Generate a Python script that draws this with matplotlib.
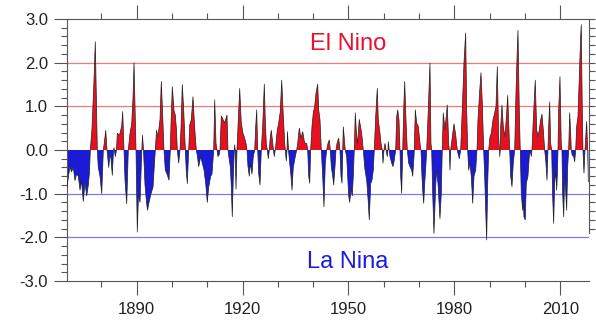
import matplotlib
matplotlib.use("Agg")
import matplotlib.pyplot as plt
import numpy as np
from matplotlib.ticker import MultipleLocator, FixedLocator

plt.rcParams['font.family'] = ['Liberation Sans', 'DejaVu Sans']

# Nino index key points (decimal year, index value)
years = [
    1870.25, 1870.68, 1871.10, 1871.53, 1872.04, 1872.52, 1872.95, 1873.46, 1873.94, 1874.36,
    1874.87, 1875.35, 1875.84, 1876.29, 1876.63, 1876.86, 1877.34, 1877.90, 1878.27, 1878.61,
    1878.84, 1879.12, 1879.60, 1880.09, 1880.54, 1880.88, 1881.22, 1881.59, 1882.07, 1882.44,
    1882.72, 1883.09, 1883.43, 1883.57, 1883.94, 1884.28, 1884.50, 1884.99, 1885.27, 1885.75,
    1886.03, 1886.26, 1886.40, 1886.69, 1887.17, 1887.62, 1888.10, 1888.58, 1888.95, 1889.24,
    1889.52, 1889.80, 1890.17, 1890.51, 1890.94, 1891.22, 1891.45, 1891.64, 1891.93, 1892.35,
    1892.78, 1893.06, 1893.49, 1894.05, 1894.62, 1895.27, 1895.61, 1896.03, 1896.60, 1896.97,
    1897.31, 1897.73, 1898.10, 1898.58, 1899.15, 1899.52, 1899.72, 1900.09, 1900.57, 1900.94,
    1901.28, 1901.50, 1901.90, 1902.27, 1902.55, 1902.92, 1903.32, 1903.77, 1904.05, 1904.34,
    1904.73, 1905.02, 1905.47, 1905.95, 1906.43, 1906.89, 1907.22, 1907.56, 1908.13, 1908.58,
    1909.07, 1909.55, 1910.00, 1910.40, 1910.96, 1911.33, 1911.81, 1912.10, 1912.47, 1912.75,
    1913.03, 1913.40, 1913.60, 1913.97, 1914.45, 1914.93, 1915.58, 1915.86, 1916.23, 1916.52,
    1916.80, 1917.08, 1917.37, 1917.65, 1917.76, 1917.90, 1918.13, 1918.41, 1918.90, 1919.18,
    1919.63, 1920.11, 1920.48, 1920.96, 1921.25, 1921.53, 1921.90, 1922.18, 1922.66, 1923.03,
    1923.43, 1923.71, 1924.00, 1924.28, 1924.56, 1924.93, 1925.30, 1925.69, 1926.15, 1926.43,
    1926.71, 1927.00, 1927.28, 1927.56, 1927.85, 1928.13, 1928.53, 1928.75, 1928.98, 1929.26,
    1929.38, 1929.83, 1930.23, 1930.68, 1931.08, 1931.45, 1931.93, 1932.10, 1932.38, 1932.58,
    1932.72, 1933.00, 1933.34, 1933.71, 1934.00, 1934.36, 1934.93, 1935.33, 1935.61, 1936.06,
    1936.55, 1937.03, 1937.48, 1937.76, 1938.16, 1938.44, 1938.73, 1939.01, 1939.29, 1939.66,
    1940.03, 1940.43, 1940.79, 1941.28, 1941.56, 1941.93, 1942.30, 1942.69, 1943.06, 1943.43,
    1943.82, 1944.19, 1944.56, 1944.85, 1945.13, 1945.53, 1945.81, 1946.18, 1946.46, 1946.74,
    1947.22, 1947.59, 1947.88, 1948.16, 1948.36, 1948.53, 1948.87, 1949.09, 1949.49, 1949.77,
    1950.06, 1950.34, 1950.71, 1951.08, 1951.36, 1951.64, 1951.93, 1952.32, 1952.55, 1953.06,
    1953.26, 1953.74, 1954.19, 1954.68, 1955.16, 1955.61, 1955.89, 1956.29, 1956.66, 1957.03,
    1957.31, 1957.71, 1958.16, 1958.44, 1958.93, 1959.21, 1959.58, 1959.78, 1960.06, 1960.34,
    1960.63, 1960.99, 1961.19, 1961.28, 1961.53, 1961.76, 1962.24, 1962.61, 1962.98, 1963.37,
    1963.66, 1963.94, 1964.31, 1964.59, 1964.79, 1965.07, 1965.36, 1965.64, 1965.92, 1966.29,
    1966.66, 1967.06, 1967.42, 1967.91, 1968.19, 1968.56, 1968.64, 1968.93, 1969.32, 1969.78,
    1970.26, 1970.54, 1970.82, 1971.02, 1971.31, 1971.59, 1971.96, 1972.16, 1972.61, 1973.09,
    1973.37, 1973.57, 1973.86, 1974.22, 1974.71, 1974.99, 1975.36, 1975.92, 1976.29, 1976.57,
    1976.86, 1977.34, 1977.99, 1978.39, 1978.56, 1978.76, 1978.95, 1979.41, 1979.89, 1980.37,
    1980.82, 1981.02, 1981.39, 1981.79, 1982.24, 1982.72, 1983.20, 1983.49, 1983.77, 1984.05,
    1984.42, 1984.79, 1985.19, 1985.56, 1986.04, 1986.41, 1986.69, 1987.17, 1987.54, 1987.91,
    1988.30, 1988.59, 1988.87, 1989.15, 1989.44, 1989.72, 1990.09, 1990.46, 1990.94, 1991.42,
    1991.79, 1992.16, 1992.55, 1992.78, 1992.86, 1993.00, 1993.12, 1993.49, 1993.86, 1994.34,
    1994.82, 1995.10, 1995.67, 1995.95, 1996.32, 1996.69, 1997.09, 1997.45, 1997.82, 1998.02,
    1998.39, 1998.67, 1998.96, 1999.35, 1999.52, 1999.72, 2000.09, 2000.37, 2000.85, 2001.22,
    2001.50, 2001.79, 2001.99, 2002.36, 2002.92, 2003.32, 2003.69, 2004.06, 2004.45, 2004.82,
    2005.19, 2005.59, 2005.95, 2006.24, 2006.52, 2006.72, 2007.00, 2007.28, 2007.57, 2007.85,
    2008.13, 2008.41, 2008.70, 2008.98, 2009.21, 2009.35, 2009.55, 2009.92, 2010.28, 2010.48,
    2010.68, 2010.97, 2011.25, 2011.53, 2011.82, 2012.10, 2012.38, 2012.67, 2012.95, 2013.12,
    2013.40, 2013.80, 2014.08, 2014.37, 2014.65, 2015.02, 2015.39, 2015.78, 2015.95, 2016.24,
    2016.43, 2016.72, 2017.00, 2017.48, 2017.77, 2017.95,
]
index = [
    -0.85, -0.60, -0.38, -0.50, -0.40, -0.70, -0.55, -0.60, -0.92, -0.70,
    -1.18, -0.75, -1.05, -0.80, -0.50, 0.00, 0.50, 1.60, 2.48, 1.00,
    0.00, -0.40, -0.60, -1.00, 0.00, 0.20, 0.45, 0.00, -0.40, -0.10,
    -0.20, -0.58, 0.00, 0.05, -0.15, 0.00, 0.38, 0.35, 0.38, 0.55,
    0.88, 0.30, 0.00, -0.70, -1.23, 0.00, 0.38, 0.60, 1.20, 2.00,
    1.00, 0.00, -1.88, -1.00, -1.20, -0.50, 0.00, 0.34, 0.00, -0.80,
    -1.20, -1.38, -1.20, -1.00, -0.85, 0.00, 0.45, 0.30, 0.70, 1.57,
    0.90, 0.00, -0.46, -0.55, -0.69, 0.00, 0.60, 1.45, 0.90, 0.80,
    0.45, 0.00, -0.30, 0.00, 0.50, 1.50, 0.90, 0.00, -0.50, -0.77,
    0.00, 0.57, 0.70, 1.22, 0.50, 0.00, -0.15, -0.38, -0.15, -0.30,
    -0.46, -0.77, -1.20, -0.85, -0.60, -0.55, 0.00, 1.15, 0.15, 0.00,
    -0.15, -0.10, 0.00, 0.78, 0.70, 0.62, 0.80, 0.00, -0.23, -0.38,
    -0.84, -1.53, -0.60, 0.00, 0.12, 0.00, -0.90, 0.00, 0.92, 1.41,
    0.62, 0.38, 0.30, 0.15, 0.00, -0.38, -0.60, -0.30, -0.55, -0.15,
    0.00, 0.54, 0.92, 0.00, -0.54, -0.80, 0.00, 0.54, 1.51, 0.69,
    0.15, 0.00, -0.20, 0.00, 0.30, 0.45, 0.15, 0.00, -0.15, 0.00,
    0.08, 0.46, 0.62, 0.88, 1.60, 0.92, 0.15, 0.00, -0.25, 0.00,
    0.42, 0.00, -0.30, -0.60, -0.92, -0.40, -0.15, 0.00, 0.15, 0.50,
    0.27, 0.42, 0.20, 0.15, 0.15, 0.00, -0.60, -0.76, 0.00, 0.54,
    0.85, 1.00, 1.30, 1.51, 0.92, 0.69, 0.00, -0.60, -1.30, -0.30,
    0.00, 0.15, 0.23, 0.00, -0.38, -0.60, -0.80, -0.38, 0.00, 0.15,
    0.27, 0.00, -0.60, -0.76, 0.00, 0.53, 0.20, 0.00, -0.15, -0.60,
    -1.05, -1.20, -0.90, -1.05, -0.60, 0.00, 0.85, 0.30, 0.15, 0.70,
    0.61, 0.38, 0.00, -0.46, -0.69, -1.20, -1.60, -0.77, -0.69, -0.46,
    0.00, 0.77, 1.41, 0.69, 0.38, 0.15, 0.00, -0.30, 0.00, 0.15,
    0.00, -0.15, 0.00, 0.19, 0.00, -0.15, -0.30, -0.38, -0.23, 0.00,
    0.77, 0.92, 0.69, 0.00, -0.60, -0.99, 0.00, 0.92, 1.57, 0.69,
    0.00, -0.30, -0.38, -0.46, -0.60, -0.15, 0.00, 0.92, 0.62, 0.54,
    0.15, 0.00, -0.60, -0.92, -1.22, -0.77, -0.30, 0.00, 0.92, 1.99,
    0.15, 0.00, -1.00, -1.91, -0.80, -0.46, -0.77, -1.57, -1.00, 0.00,
    0.85, 0.46, 1.03, 0.15, 0.00, -0.46, 0.00, 0.30, 0.60, 0.35,
    0.00, -0.08, -0.20, 0.00, 0.92, 2.00, 2.68, 0.92, 0.00, -0.46,
    -0.30, -0.60, -1.22, -0.60, -0.46, 0.00, 0.69, 1.35, 1.77, 1.08,
    0.00, -0.60, -1.38, -2.06, -0.77, 0.00, 0.30, 0.38, 0.69, 0.85,
    1.00, 1.91, 0.30, 0.00, -0.15, 0.00, 0.54, 1.03, 0.54, 0.30,
    0.85, 1.25, 0.00, -0.60, -0.84, -0.30, 0.00, 1.30, 2.30, 2.74,
    0.92, 0.00, -1.00, -1.38, -1.15, -1.53, -1.60, -0.77, -0.60, -0.15,
    0.00, -0.15, 0.00, 0.69, 1.60, 0.46, 0.31, 0.46, 0.69, 0.82,
    0.46, 0.00, -0.30, -0.69, 0.00, 0.54, 1.10, 0.15, 0.00, -1.07,
    -1.68, -0.77, -0.46, -0.92, -0.50, 0.00, 0.92, 1.68, 0.15, 0.00,
    -1.00, -1.53, -0.60, -0.92, -1.38, -0.38, 0.00, 0.85, 0.38, 0.00,
    -0.12, -0.15, -0.27, 0.00, 0.54, 0.77, 1.68, 2.60, 2.87, 0.92,
    0.00, -0.53, 0.00, 0.65, 0.00, -0.73,
]

major_years = [1890, 1920, 1950, 1980, 2010]
minor_years = [1880, 1900, 1910, 1930, 1940, 1960, 1970, 1990, 2000]
y_ticks = [-3.0, -2.0, -1.0, 0.0, 1.0, 2.0, 3.0]
red_levels = [1.0, 2.0]
blue_levels = [-1.0, -2.0]

RED = '#e8101e'
BLUE = '#1b1bd6'

fig = plt.figure(figsize=(5.96, 3.22), dpi=100)
ax = fig.add_axes([67 / 596, 1 - 281 / 322, (588.5 - 67) / 596, (281 - 19) / 322])

x = np.array(years)
y = np.array(index)

for lv in red_levels:
    ax.axhline(lv, color='#f07a7a', lw=0.9, zorder=1)
for lv in blue_levels:
    ax.axhline(lv, color='#7c7cf0', lw=0.9, zorder=1)

ax.fill_between(x, 0, y, where=y >= 0, interpolate=True, color=RED, lw=0, zorder=2)
ax.fill_between(x, 0, y, where=y <= 0, interpolate=True, color=BLUE, lw=0, zorder=2)
ax.plot(x, y, color='#202020', lw=0.5, zorder=3)

ax.set_xlim(1870.25, 2018.0)
ax.set_ylim(-3.0, 3.0)

ax.set_xticks(major_years)
ax.set_xticklabels([str(v) for v in major_years])
ax.xaxis.set_minor_locator(FixedLocator(minor_years))
ax.set_yticks(y_ticks)
ax.set_yticklabels(['%.1f' % v for v in y_ticks])
ax.yaxis.set_minor_locator(MultipleLocator(0.2))

tick_col = '#555555'
ax.tick_params(axis='x', which='major', direction='out', length=10, width=0.8,
               color=tick_col, top=True, labelsize=12, pad=5, labelcolor='#222222')
ax.tick_params(axis='x', which='minor', direction='out', length=4.3, width=0.8,
               color=tick_col, top=True)
ax.tick_params(axis='y', which='major', direction='out', length=9.5, width=0.8,
               color=tick_col, right=False, labelsize=12, pad=4, labelcolor='#222222')
ax.tick_params(axis='y', which='minor', direction='out', length=4, width=0.8,
               color=tick_col, right=False)

for s in ['left', 'bottom', 'top']:
    ax.spines[s].set_color('#555555')
    ax.spines[s].set_linewidth(0.8)
ax.spines['right'].set_visible(False)

# partial right frame with outward ticks (as in the reference)
ax2 = ax.twinx()
ax2.set_ylim(-3.0, 3.0)
ax2.yaxis.set_major_locator(FixedLocator([]))
ax2.yaxis.set_minor_locator(FixedLocator([round(v * 0.2, 1) for v in range(-9, 16)]))
ax2.tick_params(axis='y', which='minor', direction='out', length=4, width=0.8, color=tick_col)
for s in ['left', 'bottom', 'top']:
    ax2.spines[s].set_visible(False)
ax2.spines['right'].set_bounds(-1.9, 3.0)
ax2.spines['right'].set_color('#555555')
ax2.spines['right'].set_linewidth(0.8)

ax.text(1949.8, 2.29, 'El Nino', color='#e8102a', fontsize=17, ha='center', va='baseline', zorder=4)
ax.text(1949.9, -2.71, 'La Nina', color='#1c1ce0', fontsize=17, ha='center', va='baseline', zorder=4)

fig.savefig('out.png', dpi=100)
